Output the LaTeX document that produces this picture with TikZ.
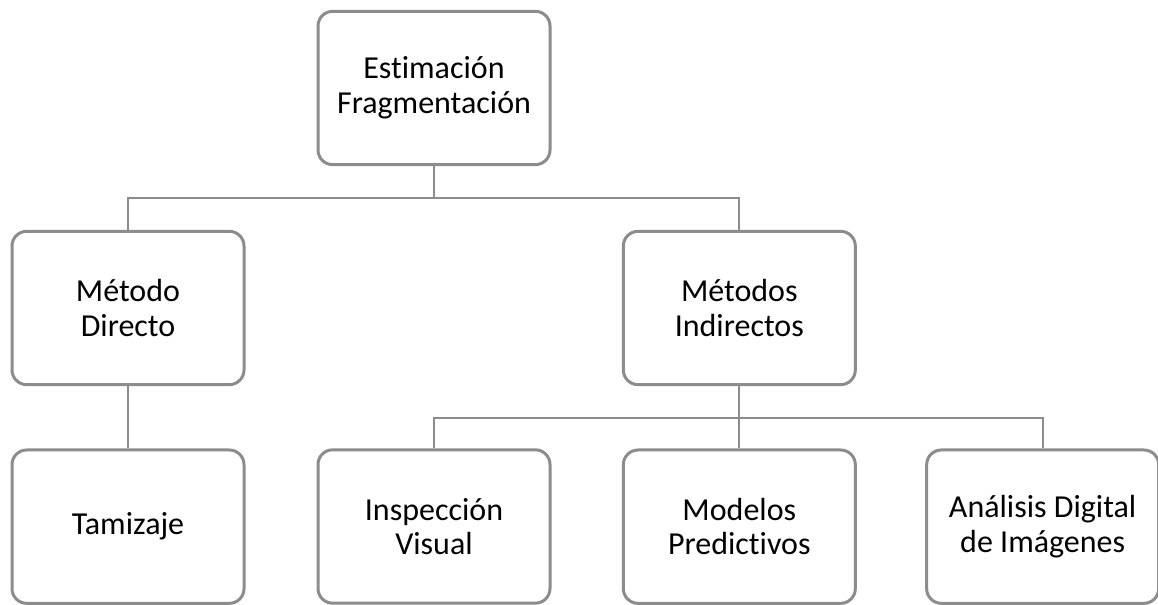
\documentclass[tikz,border=0pt]{standalone}
\usepackage{fontspec}
\setmainfont{Carlito}[Ligatures=NoCommon]
\usetikzlibrary{positioning}

\begin{document}
\begin{tikzpicture}
[x=0.75pt,y=0.75pt,node distance=165pt and 229.5pt,on grid,
every node/.style={font=\fontsize{24}{26}\selectfont},
box/.style={draw=black!45,line width=2.25pt,rounded corners=11pt,fill=white,
  minimum width=174pt,minimum height=115pt,align=center,inner sep=2pt},
link/.style={draw=black!45,line width=1.5pt}]
\useasboundingbox (0,0) rectangle (1158,-605);
\node [box] (est) at (434,-88) {Estimación\\Fragmentación};
\node [box] (dir) [below left=of est] {Método\\Directo};
\node [box] (ind) [below right=of est,xshift=-0.5pt] {Métodos\\Indirectos};
\node [box] (tam) [below=of dir,yshift=1pt] {Tamizaje};
\node [box] (vis) [below=of est,yshift=-163.875pt] {Inspección\\Visual};
\node [box] (mod) [below=of ind,yshift=1pt] {Modelos\\Predictivos};
\node [box] (ana) [right=of mod,xshift=-2pt] {Análisis Digital\\de Imágenes};
% connectors
\draw [link] (est.south) -- ++(0,-32) -| (dir.north);
\draw [link] (est.south) ++(0,-32) -| (ind.north);
\draw [link] (dir.south) -- (tam.north);
\draw [link] (ind.south) -- ++(0,-32) -| (vis.north);
\draw [link] (ind.south) -- (mod.north);
\draw [link] (ind.south) ++(0,-32) -| (ana.north);
\end{tikzpicture}
\end{document}
